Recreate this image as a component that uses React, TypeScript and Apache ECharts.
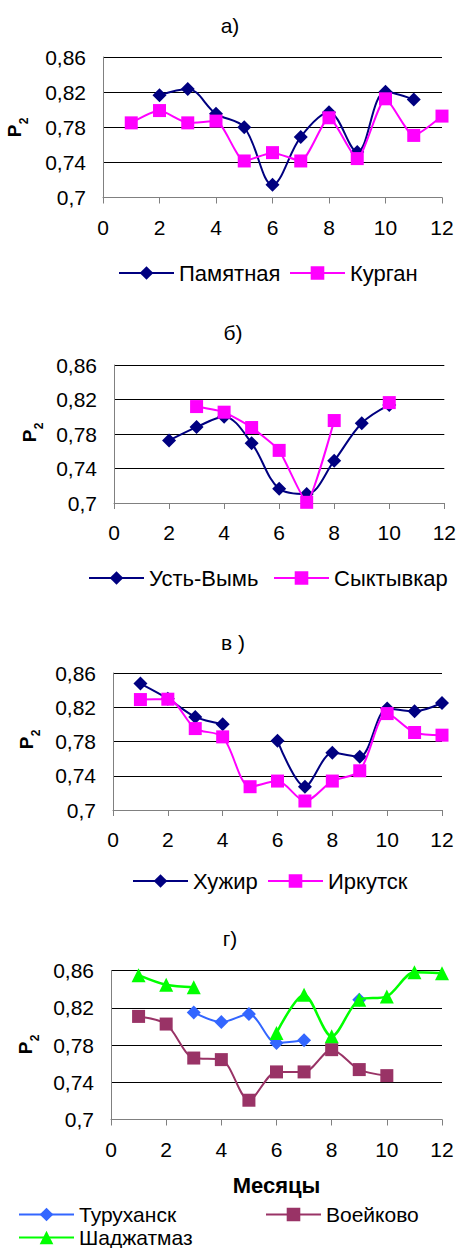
import React, { useEffect, useRef } from "react";
import * as echarts from "echarts";

// ---- data ----
const months = [1, 2, 3, 4, 5, 6, 7, 8, 9, 10, 11, 12];
const yTicks = [0.7, 0.74, 0.78, 0.82, 0.86];

const pamyatnaya = [null, 0.8165, 0.8237, 0.7953, 0.78, 0.7144, 0.769, 0.797, 0.7518, 0.8203, 0.8116, null];
const kurgan = [0.785, 0.799, 0.785, 0.787, 0.7416, 0.7511, 0.7416, 0.7908, 0.7443, 0.8124, 0.7707, 0.7927];

const ustVym = [null, 0.7725, 0.788, 0.8, 0.7694, 0.7166, 0.7104, 0.749, 0.7925, 0.8137, null, null];
const syktyvkar = [null, null, 0.8118, 0.8053, 0.7875, 0.761, 0.7008, 0.7956, null, 0.8164, null, null];

const khuzhir = [0.8476, 0.83, 0.8087, 0.8002, null, 0.7808, 0.7272, 0.7668, 0.7621, 0.8184, 0.8153, 0.825];
const irkutsk = [0.829, 0.8294, 0.7951, 0.7854, 0.7272, 0.7338, 0.7105, 0.7338, 0.7458, 0.8126, 0.7905, 0.7874];

const turukhansk = [null, null, 0.815, 0.8046, 0.8132, 0.7821, 0.785, null, 0.8286, null, null, null];
const voeikovo = [0.8107, 0.8025, 0.766, 0.7643, 0.7207, 0.7511, 0.7511, 0.775, 0.7536, 0.7471, null, null];
const shadzhatmaz = [0.855, 0.8446, 0.8421, null, null, 0.7929, 0.834, 0.7893, 0.8286, 0.8321, 0.858, 0.857];

const FONT = "'Liberation Sans', Arial, Helvetica, sans-serif";
const NAVY = "#000080";
const MAGENTA = "#FF00FF";
const BLUE = "#3366FF";
const MAROON = "#993366";
const GREEN = "#00FF00";

type S = {
  name: string;
  data: (number | null)[];
  color: string;
  symbol: string;
  size: number;
  width: number;
  smooth: number;
};

type Panel = {
  left: number;
  right: number;
  top: number;
  bottom: number;
  title: string;
  titleX: number;
  titleY: number;
  pX: number;
  pY: number;
  series: S[];
  legends: { name: string; left: number; cy: number; fs: number }[];
  xName?: string;
};

const panels: Panel[] = [
  {
    left: 103, right: 442, top: 57, bottom: 197.5,
    title: "а)", titleX: 230, titleY: 25, pX: 14, pY: 131,
    series: [
      { name: "Памятная", data: pamyatnaya, color: NAVY, symbol: "diamond", size: 14, width: 2, smooth: 0.35 },
      { name: "Курган", data: kurgan, color: MAGENTA, symbol: "rect", size: 13, width: 2, smooth: 0.2 },
    ],
    legends: [
      { name: "Памятная", left: 118, cy: 272, fs: 22 },
      { name: "Курган", left: 289, cy: 272, fs: 22 },
    ],
  },
  {
    left: 114, right: 446, top: 365, bottom: 503,
    title: "б)", titleX: 233, titleY: 332, pX: 29, pY: 436,
    series: [
      { name: "Усть-Вымь", data: ustVym, color: NAVY, symbol: "diamond", size: 14, width: 2, smooth: 0.35 },
      { name: "Сыктывкар", data: syktyvkar, color: MAGENTA, symbol: "rect", size: 13, width: 2, smooth: 0.15 },
    ],
    legends: [
      { name: "Усть-Вымь", left: 88, cy: 577, fs: 22 },
      { name: "Сыктывкар", left: 273, cy: 577, fs: 22 },
    ],
  },
  {
    left: 113, right: 442, top: 673, bottom: 810,
    title: "в )", titleX: 233, titleY: 642, pX: 26, pY: 743,
    series: [
      { name: "Хужир", data: khuzhir, color: NAVY, symbol: "diamond", size: 14, width: 2, smooth: 0.3 },
      { name: "Иркутск", data: irkutsk, color: MAGENTA, symbol: "rect", size: 13, width: 2, smooth: 0.3 },
    ],
    legends: [
      { name: "Хужир", left: 132, cy: 880, fs: 22 },
      { name: "Иркутск", left: 267, cy: 880, fs: 22 },
    ],
  },
  {
    left: 111, right: 442, top: 970.5, bottom: 1119.5,
    title: "г)", titleX: 230, titleY: 938, pX: 25, pY: 1048,
    series: [
      { name: "Туруханск", data: turukhansk, color: BLUE, symbol: "diamond", size: 14, width: 2, smooth: 0.3 },
      { name: "Воейково", data: voeikovo, color: MAROON, symbol: "rect", size: 13, width: 2, smooth: 0.3 },
      { name: "Шаджатмаз", data: shadzhatmaz, color: GREEN, symbol: "triangle", size: 14, width: 2.5, smooth: 0.3 },
    ],
    legends: [
      { name: "Туруханск", left: 18, cy: 1214, fs: 21 },
      { name: "Воейково", left: 265, cy: 1214, fs: 21 },
      { name: "Шаджатмаз", left: 18, cy: 1237, fs: 21 },
    ],
    xName: "Месяцы",
  },
];

function fmtY(v: number): string {
  const hit = yTicks.find((t) => Math.abs(t - v) < 1e-6);
  if (hit === undefined) return "";
  return String(hit).replace(".", ",");
}

function buildOption() {
  const grid: any[] = [];
  const xAxis: any[] = [];
  const yAxis: any[] = [];
  const series: any[] = [];
  const legend: any[] = [];
  const graphic: any[] = [];

  panels.forEach((p, i) => {
    grid.push({
      left: p.left,
      top: p.top,
      width: p.right - p.left,
      height: p.bottom - p.top,
      containLabel: false,
    });
    xAxis.push({
      type: "value",
      gridIndex: i,
      min: 0,
      max: 12,
      interval: 2,
      axisLine: { show: true, onZero: false, lineStyle: { color: "#808080", width: 1 } },
      axisTick: { show: true, length: 6, lineStyle: { color: "#808080", width: 1 } },
      splitLine: { show: false },
      axisLabel: { fontSize: 21, color: "#000", fontFamily: FONT, margin: 19 },
      name: p.xName || "",
      nameLocation: "middle",
      nameGap: 55,
      nameTextStyle: { fontSize: 22, fontWeight: "bold", color: "#000", fontFamily: FONT },
    });
    yAxis.push({
      type: "value",
      gridIndex: i,
      min: 0.7,
      max: 0.86,
      interval: 0.02,
      axisLine: { show: true, onZero: false, lineStyle: { color: "#808080", width: 1 } },
      axisTick: { show: false },
      splitLine: { show: true, lineStyle: { color: ["#000000", "rgba(0,0,0,0)"], width: 1 } },
      axisLabel: { fontSize: 21, color: "#000", fontFamily: FONT, margin: 17, formatter: fmtY },
    });
    p.series.forEach((s, k) => {
      series.push({
        type: "line",
        name: s.name,
        xAxisIndex: i,
        yAxisIndex: i,
        data: months.map((m, j) => [m, s.data[j]]),
        symbol: s.symbol,
        symbolSize: s.size,
        smooth: s.smooth,
        connectNulls: false,
        lineStyle: { color: s.color, width: s.width },
        itemStyle: { color: s.color, borderWidth: 0 },
        emphasis: { disabled: true },
        z: 3 + k,
      });
    });
    p.legends.forEach((l) => {
      legend.push({
        data: [l.name],
        left: l.left,
        top: l.cy - 10,
        padding: 0,
        itemWidth: 55,
        itemHeight: 17,
        itemGap: 0,
        selectedMode: false,
        textStyle: { fontSize: l.fs, lineHeight: 20, color: "#000", fontFamily: FONT },
      });
    });
    graphic.push({
      type: "text",
      x: p.titleX,
      y: p.titleY,
      style: {
        text: p.title,
        fill: "#000",
        font: `21px ${FONT}`,
        textAlign: "center",
        textVerticalAlign: "middle",
      },
    });
    graphic.push({
      type: "group",
      x: p.pX,
      y: p.pY,
      rotation: Math.PI / 2,
      children: [
        {
          type: "text",
          x: 0,
          y: 0,
          style: {
            text: "P",
            fill: "#000",
            font: `bold 19px ${FONT}`,
            textAlign: "center",
            textVerticalAlign: "middle",
          },
        },
        {
          type: "text",
          x: 10,
          y: 10,
          style: {
            text: "2",
            fill: "#000",
            font: `bold 12px ${FONT}`,
            textAlign: "center",
            textVerticalAlign: "middle",
          },
        },
      ],
    });
  });

  return {
    animation: false,
    backgroundColor: "#ffffff",
    grid,
    xAxis,
    yAxis,
    series,
    legend,
    graphic,
  };
}

export default function App() {
  const ref = useRef<HTMLDivElement>(null);
  useEffect(() => {
    if (!ref.current) return;
    const chart = echarts.init(ref.current, undefined, { renderer: "svg" });
    chart.setOption(buildOption() as any);
    return () => chart.dispose();
  }, []);
  return (
    <div
      ref={ref}
      style={{ position: "absolute", left: 0, top: 0, width: 459, height: 1248, background: "#fff" }}
    />
  );
}
